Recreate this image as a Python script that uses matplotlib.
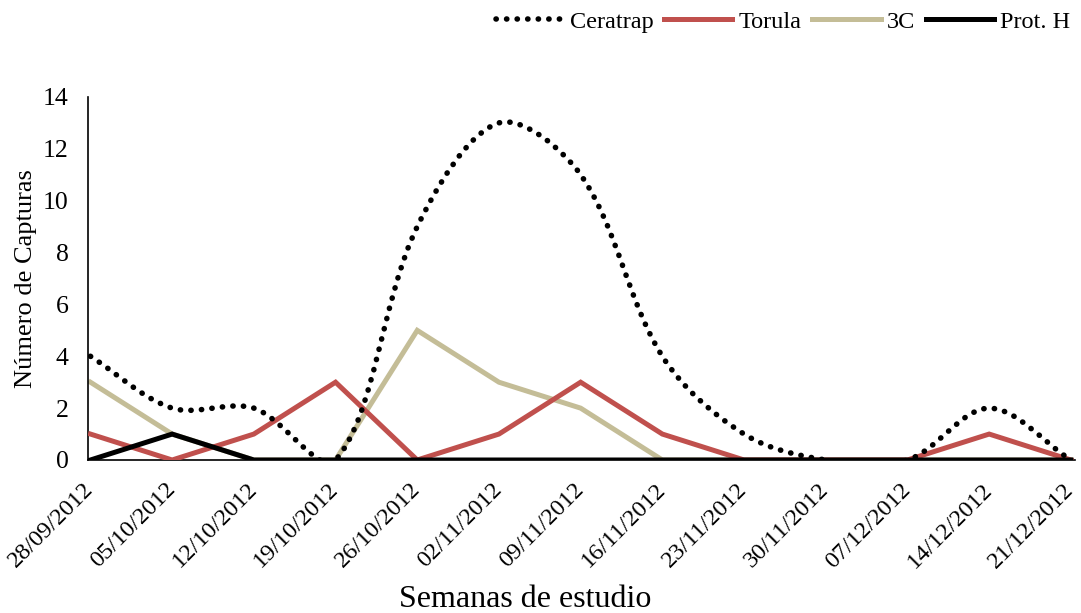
import numpy as np
import matplotlib.pyplot as plt
from matplotlib.path import Path
from matplotlib.patches import PathPatch
from matplotlib.lines import Line2D

plt.rcParams['font.family'] = ['Liberation Serif', 'DejaVu Serif']

# Semanas de muestreo
semanas = ['28/09/2012', '05/10/2012', '12/10/2012', '19/10/2012', '26/10/2012',
           '02/11/2012', '09/11/2012', '16/11/2012', '23/11/2012', '30/11/2012',
           '07/12/2012', '14/12/2012', '21/12/2012']

# Capturas por atrayente
ceratrap = [4, 2, 2, 0, 9, 13, 11, 4, 1, 0, 0, 2, 0]
torula = [1, 0, 1, 3, 0, 1, 3, 1, 0, 0, 0, 1, 0]
tres_c = [3, 1, 0, 0, 5, 3, 2, 0, 0, 0, 0, 0, 0]
prot_h = [0, 1, 0, 0, 0, 0, 0, 0, 0, 0, 0, 0, 0]

x = np.arange(len(semanas))


def curva_suave(xs, ys, escala_y=0.317):
    # Bezier con tangentes ponderadas por la longitud de cada tramo (en pantalla)
    xs = np.asarray(xs, float)
    ys = np.asarray(ys, float)
    n = len(xs)
    pts = np.column_stack([xs, ys * escala_y])
    antes = pts.copy()
    despues = pts.copy()
    for i in range(1, n - 1):
        d = pts[i + 1] - pts[i - 1]
        l1 = np.linalg.norm(pts[i] - pts[i - 1])
        l2 = np.linalg.norm(pts[i + 1] - pts[i])
        antes[i] = pts[i] - d * l1 / (l1 + l2) / 3
        despues[i] = pts[i] + d * l2 / (l1 + l2) / 3
    despues[0] = pts[0] + (pts[1] - pts[0]) / 3
    antes[-1] = pts[-1] - (pts[-1] - pts[-2]) / 3
    verts = [pts[0]]
    codes = [Path.MOVETO]
    for i in range(n - 1):
        verts += [despues[i], antes[i + 1], pts[i + 1]]
        codes += [Path.CURVE4] * 3
    verts = np.array(verts)
    verts[:, 1] /= escala_y
    return Path(verts, codes)


fig = plt.figure(figsize=(10.81, 6.13), dpi=100)
ax = fig.add_axes([0.0814, 0.2496, 0.913, 0.5922])

ax.plot(x, torula, color='#C0504D', lw=3.6, solid_joinstyle='miter', zorder=3)
ax.plot(x, tres_c, color='#C4BD97', lw=3.6, solid_joinstyle='miter', zorder=2)
ax.plot(x, prot_h, color='black', lw=3.6, solid_joinstyle='miter', zorder=4)

punteado = (0, (0.05, 1.85))
patch = PathPatch(curva_suave(x, ceratrap), facecolor='none', edgecolor='black',
                  lw=4.0, linestyle=punteado, capstyle='round', zorder=5)
ax.add_patch(patch)

ax.set_xlim(-0.03, 12.05)
ax.set_ylim(0, 14)
ax.set_yticks(range(0, 15, 2))
ax.set_xticks(x)
ax.set_xticklabels(semanas, rotation=45, ha='right', va='center',
                   rotation_mode='anchor', fontsize=17.5)
ax.tick_params(axis='y', labelsize=18.5, length=0, pad=14)
ax.tick_params(axis='x', length=0, pad=19)

for s in ['top', 'right']:
    ax.spines[s].set_visible(False)
ax.spines['left'].set_linewidth(1.2)
ax.spines['bottom'].set_linewidth(1.2)

ax.set_ylabel('Número de Capturas', fontsize=19, labelpad=4)
ax.set_xlabel('Semanas de estudio', fontsize=23)
ax.xaxis.set_label_coords(0.443, -0.345)

handles = [
    Line2D([], [], color='black', lw=4.0, linestyle=punteado, dash_capstyle='round'),
    Line2D([], [], color='#C0504D', lw=3.6),
    Line2D([], [], color='#C4BD97', lw=3.6),
    Line2D([], [], color='black', lw=3.6),
]
fig.legend(handles, ['Ceratrap', 'Torula', '3C', 'Prot. H'], loc='upper right',
           bbox_to_anchor=(1.0, 1.0), ncol=4, frameon=False, fontsize=17.5,
           handlelength=2.8, handletextpad=0.25, columnspacing=0.45,
           borderaxespad=0.05)

fig.savefig('out.png', dpi=100)
